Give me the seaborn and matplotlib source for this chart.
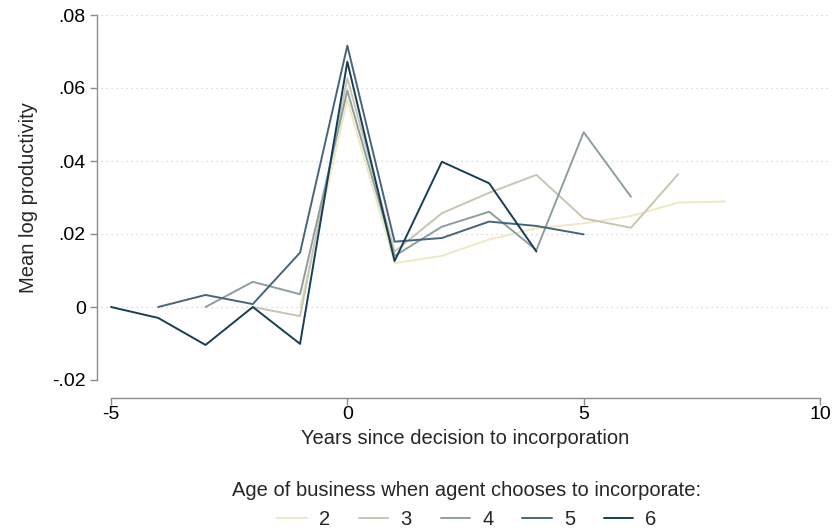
import numpy as np
import pandas as pd
import matplotlib
matplotlib.use("Agg")
import matplotlib.pyplot as plt
import seaborn as sns

# ---- data ----
years_2 = [-1, 0, 1, 2, 3, 4, 5, 6, 7, 8]
vals_2 = [0.0, 0.0567, 0.0120, 0.0140, 0.0185, 0.0216, 0.0229, 0.0249, 0.0286, 0.0289]
years_3 = [-2, -1, 0, 1, 2, 3, 4, 5, 6, 7]
vals_3 = [0.0, -0.0025, 0.0627, 0.0152, 0.0257, 0.0313, 0.0362, 0.0243, 0.0217, 0.0364]
years_4 = [-3, -2, -1, 0, 1, 2, 3, 4, 5, 6]
vals_4 = [0.0, 0.0069, 0.0035, 0.0593, 0.0140, 0.0220, 0.0261, 0.0156, 0.0479, 0.0302]
years_5 = [-4, -3, -2, -1, 0, 1, 2, 3, 4, 5]
vals_5 = [0.0, 0.0033, 0.0008, 0.0149, 0.0716, 0.0179, 0.0189, 0.0234, 0.0222, 0.0199]
years_6 = [-5, -4, -3, -2, -1, 0, 1, 2, 3, 4]
vals_6 = [0.0, -0.0030, -0.0104, 0.0, -0.0101, 0.0672, 0.0126, 0.0398, 0.0339, 0.0152]

ages = ["2", "3", "4", "5", "6"]
xticks = [-5, 0, 5, 10]
yticks = [-0.02, 0, 0.02, 0.04, 0.06, 0.08]
ytick_labels = ["-.02", "0", ".02", ".04", ".06", ".08"]

frames = []
for age, xs, ys in zip(ages, [years_2, years_3, years_4, years_5, years_6],
                       [vals_2, vals_3, vals_4, vals_5, vals_6]):
    frames.append(pd.DataFrame({"year": xs, "value": ys, "age": age}))
df = pd.concat(frames, ignore_index=True)

palette = {"2": "#efe8c4", "3": "#c8c5b1", "4": "#8d9ea1", "5": "#46657a", "6": "#163f57"}

sns.set_style("white")
plt.rcParams["font.family"] = ["Liberation Sans", "DejaVu Sans"]

fig = plt.figure(figsize=(8.35, 5.31), dpi=100)
W, H = 835, 531
ax = fig.add_axes([101 / W, 1 - 380 / H, (830 - 101) / W, (380 - 15) / H])

sns.lineplot(data=df, x="year", y="value", hue="age", palette=palette,
             hue_order=ages, linewidth=1.4, ax=ax, legend=False)

ppu = (820 - 111) / 15
ax.set_xlim(-5 - 10 / ppu, 10 + 10 / ppu)
ax.set_ylim(-0.02, 0.08)

for t in yticks:
    ax.axhline(t, color="#d0d0d0", linestyle=(0, (1, 3)), linewidth=0.9, zorder=0)

ax.set_xticks(xticks)
ax.set_xticklabels([str(v) for v in xticks])
ax.set_yticks(yticks)
ax.set_yticklabels(ytick_labels)

for s in ["top", "right"]:
    ax.spines[s].set_visible(False)
ax.spines["left"].set_position(("outward", 3))
ax.spines["bottom"].set_position(("outward", 13))
ax.spines["left"].set_bounds(-0.02, 0.08)
ax.spines["bottom"].set_bounds(-5, 10)
for s in ["left", "bottom"]:
    ax.spines[s].set_color("#8c8c8c")
    ax.spines[s].set_linewidth(1.0)

ax.tick_params(axis="both", direction="out", length=5, width=1.0, color="#8c8c8c",
               labelsize=14, labelcolor="black", left=True, bottom=True)
ax.tick_params(axis="x", pad=1)
ax.tick_params(axis="y", pad=3)
ax.set_xlabel("Years since decision to incorporation", fontsize=14.5, labelpad=4)
ax.set_ylabel("Mean log productivity", fontsize=14.5, labelpad=10)

handles = [plt.Line2D([0], [0], color=palette[a], lw=1.4) for a in ages]
fig.legend(handles, ages, loc="center", bbox_to_anchor=(467 / W, 1 - 505 / H), ncol=5,
           frameon=False, fontsize=14.5, title="Age of business when agent chooses to incorporate:",
           title_fontsize=14.5, handlelength=1.45, handletextpad=0.6, columnspacing=1.45,
           borderpad=0, borderaxespad=0)

fig.savefig("out.png", dpi=100)
